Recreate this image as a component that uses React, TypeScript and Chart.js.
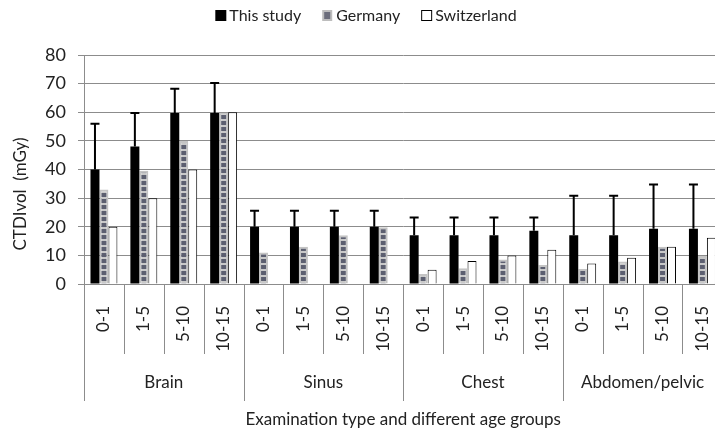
import React, { useEffect, useRef } from 'react';
import { Chart, registerables } from 'chart.js';

Chart.register(...registerables);

// ---- data ----
const examTypes = ['Brain', 'Sinus', 'Chest', 'Abdomen/pelvic'];
const ageGroups = ['0-1', '1-5', '5-10', '10-15'];
const seriesNames = ['This study', 'Germany', 'Switzerland'];
const thisStudy = [40, 48, 59.7, 59.7, 20, 20, 20, 20, 17, 17, 17, 18.6, 17, 17, 19.3, 19.3];
const thisStudySD = [16, 11.7, 8.5, 10.5, 5.6, 5.6, 5.6, 5.6, 6.2, 6.2, 6.2, 4.6, 13.8, 13.8, 15.5, 15.5];
const germany = [33, 39.6, 50, 59.8, 11, 13, 17, 19.8, 3.5, 5.5, 8.6, 6.6, 5.2, 7.9, 13, 9.8];
const switzerland = [20, 30, 40, 60, null, null, null, null, 5, 8, 10, 12, 7.2, 9.2, 13, 16.2];
const yMin = 0;
const yMax = 80;
const yStep = 10;
const yTitle = 'CTDIvol  (mGy)';
const xTitle = 'Examination type and different age groups';

const FONT = 'Lato, "Open Sans", sans-serif';
const TEXT = '#222';
const GRID = '#8c8c8c';

function makeGermanyPattern(): CanvasPattern | string {
  const c = document.createElement('canvas');
  c.width = 1;
  c.height = 6;
  const g = c.getContext('2d');
  if (!g) return '#6a6c7a';
  g.fillStyle = '#c8c8c8';
  g.fillRect(0, 0, 1, 6);
  g.fillStyle = '#5c5f70';
  g.fillRect(0, 1, 1, 4);
  const p = g.createPattern(c, 'repeat');
  return p || '#6a6c7a';
}

const decorPlugin = {
  id: 'decor',
  afterDatasetsDraw(chart: any) {
    const ctx = chart.ctx;
    const y = chart.scales.y;
    const meta = chart.getDatasetMeta(0);
    ctx.save();
    ctx.strokeStyle = '#000';
    ctx.lineWidth = 2;
    meta.data.forEach((el: any, i: number) => {
      const top = y.getPixelForValue(thisStudy[i] + thisStudySD[i]);
      ctx.beginPath();
      ctx.moveTo(el.x, el.y);
      ctx.lineTo(el.x, top);
      ctx.moveTo(el.x - 4.5, top);
      ctx.lineTo(el.x + 4.5, top);
      ctx.stroke();
    });
    ctx.restore();
  },
  afterDraw(chart: any) {
    const ctx = chart.ctx;
    const x = chart.scales.x;
    const area = chart.chartArea;
    const n = x.getLabels().length;
    const cw = (area.right - area.left) / n;
    ctx.save();
    // category dividers below the axis
    ctx.strokeStyle = GRID;
    ctx.lineWidth = 1;
    for (let i = 0; i <= n; i++) {
      const px = Math.round(x.getPixelForValue(Math.min(i, n - 1)) + (i === n ? cw / 2 : -cw / 2)) + 0.5;
      const isGroup = i % ageGroups.length === 0;
      ctx.beginPath();
      ctx.moveTo(px, area.bottom);
      ctx.lineTo(px, area.bottom + (isGroup ? 117 : 70));
      ctx.stroke();
    }
    // group labels
    ctx.fillStyle = TEXT;
    ctx.font = `17px ${FONT}`;
    ctx.textAlign = 'center';
    ctx.textBaseline = 'middle';
    examTypes.forEach((name, g) => {
      const a = x.getPixelForValue(g * ageGroups.length);
      const b = x.getPixelForValue(g * ageGroups.length + ageGroups.length - 1);
      ctx.fillText(name, (a + b) / 2, area.bottom + 99);
    });
    // x title
    ctx.fillText(xTitle, (area.left + area.right) / 2, area.bottom + 136);
    // y title
    ctx.save();
    ctx.translate(21, 194);
    ctx.rotate(-Math.PI / 2);
    ctx.fillText(yTitle, 0, 0);
    ctx.restore();
    // legend
    ctx.font = `16px ${FONT}`;
    ctx.textAlign = 'left';
    const box = 11;
    const gapText = 3;
    const gapItem = 21;
    const widths = seriesNames.map((s) => ctx.measureText(s).width);
    const total = widths.reduce((s, w) => s + box + gapText + w, 0) + gapItem * (seriesNames.length - 1);
    let lx = 366 - total / 2;
    const ly = 10;
    seriesNames.forEach((s, i) => {
      if (i === 0) {
        ctx.fillStyle = '#000';
        ctx.fillRect(lx, ly, box, box);
      } else if (i === 1) {
        ctx.fillStyle = '#bdbdbd';
        ctx.fillRect(lx, ly, box - 1, box);
        ctx.fillStyle = '#6b6d7b';
        ctx.fillRect(lx + 2, ly + 2, box - 5, box - 4);
      } else {
        ctx.fillStyle = '#fff';
        ctx.fillRect(lx, ly, box, box);
        ctx.strokeStyle = '#000';
        ctx.lineWidth = 1;
        ctx.strokeRect(lx + 0.5, ly + 0.5, box - 1, box - 1);
      }
      ctx.fillStyle = TEXT;
      ctx.fillText(s, lx + box + gapText, ly + box / 2 + 0.5);
      lx += box + gapText + widths[i] + gapItem;
    });
    ctx.restore();
  },
};

export default function App() {
  const ref = useRef<HTMLCanvasElement | null>(null);
  useEffect(() => {
    if (!ref.current) return;
    const labels = examTypes.flatMap(() => ageGroups);
    const chart = new Chart(ref.current, {
      type: 'bar',
      data: {
        labels,
        datasets: [
          {
            label: seriesNames[0],
            data: thisStudy,
            backgroundColor: '#000',
            borderWidth: 0,
          },
          {
            label: seriesNames[1],
            data: germany,
            backgroundColor: makeGermanyPattern() as any,
            borderColor: '#c4c4c4',
            borderWidth: 2,
          },
          {
            label: seriesNames[2],
            data: switzerland as any,
            backgroundColor: '#fff',
            borderColor: '#000',
            borderWidth: 1,
          },
        ],
      },
      options: {
        responsive: false,
        animation: false,
        devicePixelRatio: 1,
        layout: { padding: { top: 55, right: 6, left: 0, bottom: 0 } },
        datasets: { bar: { categoryPercentage: 0.675, barPercentage: 1 } },
        plugins: {
          legend: { display: false },
          tooltip: { enabled: false },
        },
        scales: {
          x: {
            grid: { display: false },
            border: { display: false },
            ticks: {
              autoSkip: false,
              minRotation: 90,
              maxRotation: 90,
              padding: 14,
              color: TEXT,
              font: { family: FONT, size: 17 },
            },
            afterFit: (s: any) => {
              s.height = 148;
            },
          },
          y: {
            min: yMin,
            max: yMax,
            ticks: {
              stepSize: yStep,
              padding: 12,
              color: TEXT,
              font: { family: FONT, size: 18 },
            },
            grid: { color: GRID, lineWidth: 1, tickLength: 6, drawTicks: true },
            border: { display: true, color: GRID },
            afterFit: (s: any) => {
              s.width = 84;
            },
          },
        },
      },
      plugins: [decorPlugin],
    });
    return () => chart.destroy();
  }, []);
  return (
    <div style={{ position: 'fixed', left: 0, top: 0, width: 715, height: 432, overflow: 'hidden', background: '#fff' }}>
      <canvas ref={ref} width={737} height={432} style={{ width: 737, height: 432, display: 'block' }} />
    </div>
  );
}
